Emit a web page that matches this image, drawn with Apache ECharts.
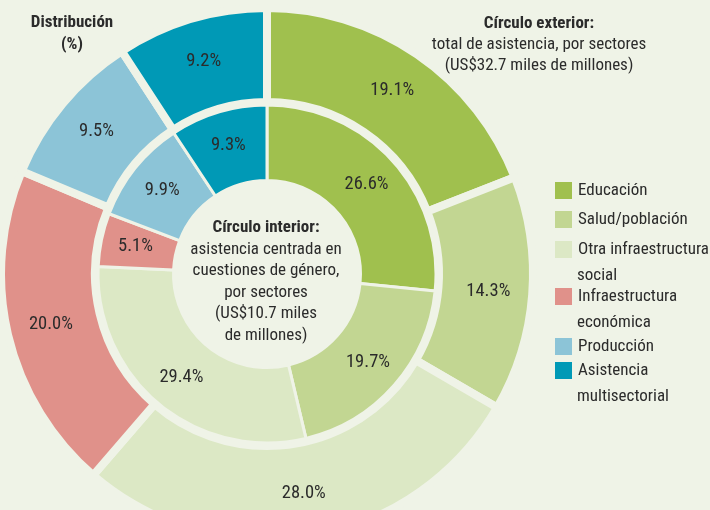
<!DOCTYPE html>
<html>
<head>
<meta charset="utf-8">
<script src="https://cdn.jsdelivr.net/npm/echarts@6/dist/echarts.min.js"></script>
<style>
  html, body { margin: 0; padding: 0; background: #eff3e7; }
  #chart { width: 710px; height: 510px; }
</style>
</head>
<body>
<div id="chart"></div>
<script>
// sectores, en el mismo orden para los dos círculos (sentido horario desde arriba)
const sectors = ["Educación", "Salud/población", "Otra infraestructura social",
  "Infraestructura económica", "Producción", "Asistencia multisectorial"];
const outerValues = [19.1, 14.3, 28.0, 20.0, 9.5, 9.2];   // círculo exterior
const innerValues = [26.6, 19.7, 29.4, 5.1, 9.9, 9.3];    // círculo interior
const sectorColors = ["#a0c04e", "#c2d692", "#dce8c5", "#e0918a", "#8cc4d7", "#0099b6"];
// texto de la leyenda, partido en líneas como en el original
const legendLines = [["Educación"], ["Salud/población"], ["Otra infraestructura", "social"],
  ["Infraestructura", "económica"], ["Producción"], ["Asistencia", "multisectorial"]];

const bg = "#eff3e7";
const font = "'Liberation Sans Narrow', 'Roboto Condensed', Arial, sans-serif";
const ink = "#2b2b2b";
const center = [267, 274];

let chart = echarts.init(document.getElementById("chart"));

function pieData(values) {
  return values.map((v, i) => ({
    name: sectors[i],
    value: v,
    itemStyle: { color: sectorColors[i] },
  }));
}

function ring(values, radius, border) {
  return {
    type: "pie",
    center: center,
    radius: radius,
    startAngle: 90,
    clockwise: true,
    silent: true,
    avoidLabelOverlap: false,
    itemStyle: { borderColor: bg, borderWidth: border },
    label: {
      position: "inside",
      color: ink,
      fontFamily: font,
      fontSize: 18.5,
      formatter: (p) => p.value.toFixed(1) + "%",
    },
    labelLine: { show: false },
    emphasis: { disabled: true },
    data: pieData(values),
  };
}

// leyenda: un componente por sector, el icono alineado con la primera línea
const legendCenters = [189.5, 218.5, 248.5, 295.5, 345.5, 369.5];
let legends = sectors.map((s, i) => ({
  data: [s],
  left: 553,
  top: legendCenters[i] - 9.5,
  padding: 0,
  icon: "rect",
  itemWidth: 19,
  itemHeight: 19,
  itemGap: 5,
  selectedMode: false,
  formatter: () => legendLines[i][0],
  textStyle: { color: ink, fontFamily: font, fontSize: 17 },
}));

let graphics = [];
legendLines.forEach((lines, i) => {
  if (lines.length > 1) {
    graphics.push({
      type: "text",
      x: 577,
      y: legendCenters[i] + 27,
      style: { text: lines[1], fill: ink, font: "17px " + font, verticalAlign: "middle" },
    });
  }
});

const rich = { b: { fontWeight: "bold", fontFamily: font, fontSize: 17, fill: ink, lineHeight: 21.5 } };

graphics.push(
  {
    type: "text",
    x: 72,
    y: 12,
    style: {
      text: "Distribución\n(%)",
      fill: ink,
      font: "bold 17px " + font,
      lineHeight: 22,
      align: "center",
      verticalAlign: "top",
    },
  },
  {
    type: "text",
    x: 539,
    y: 13,
    style: {
      text: "{b|Círculo exterior:}\ntotal de asistencia, por sectores\n(US$32.7 miles de millones)",
      rich: rich,
      fill: ink,
      font: "17px " + font,
      lineHeight: 21,
      align: "center",
      verticalAlign: "top",
    },
  },
  {
    type: "text",
    x: 266,
    y: 217,
    style: {
      text: "{b|Círculo interior:}\nasistencia centrada en\ncuestiones de género,\npor sectores\n(US$10.7 miles\nde millones)",
      rich: rich,
      fill: ink,
      font: "17px " + font,
      lineHeight: 21.5,
      align: "center",
      verticalAlign: "top",
    },
  }
);

chart.setOption({
  backgroundColor: bg,
  animation: false,
  legend: legends,
  graphic: graphics,
  series: [
    ring(outerValues, [172, 266], 8),
    ring(innerValues, [93.5, 169], 3),
  ],
});
</script>
</body>
</html>
